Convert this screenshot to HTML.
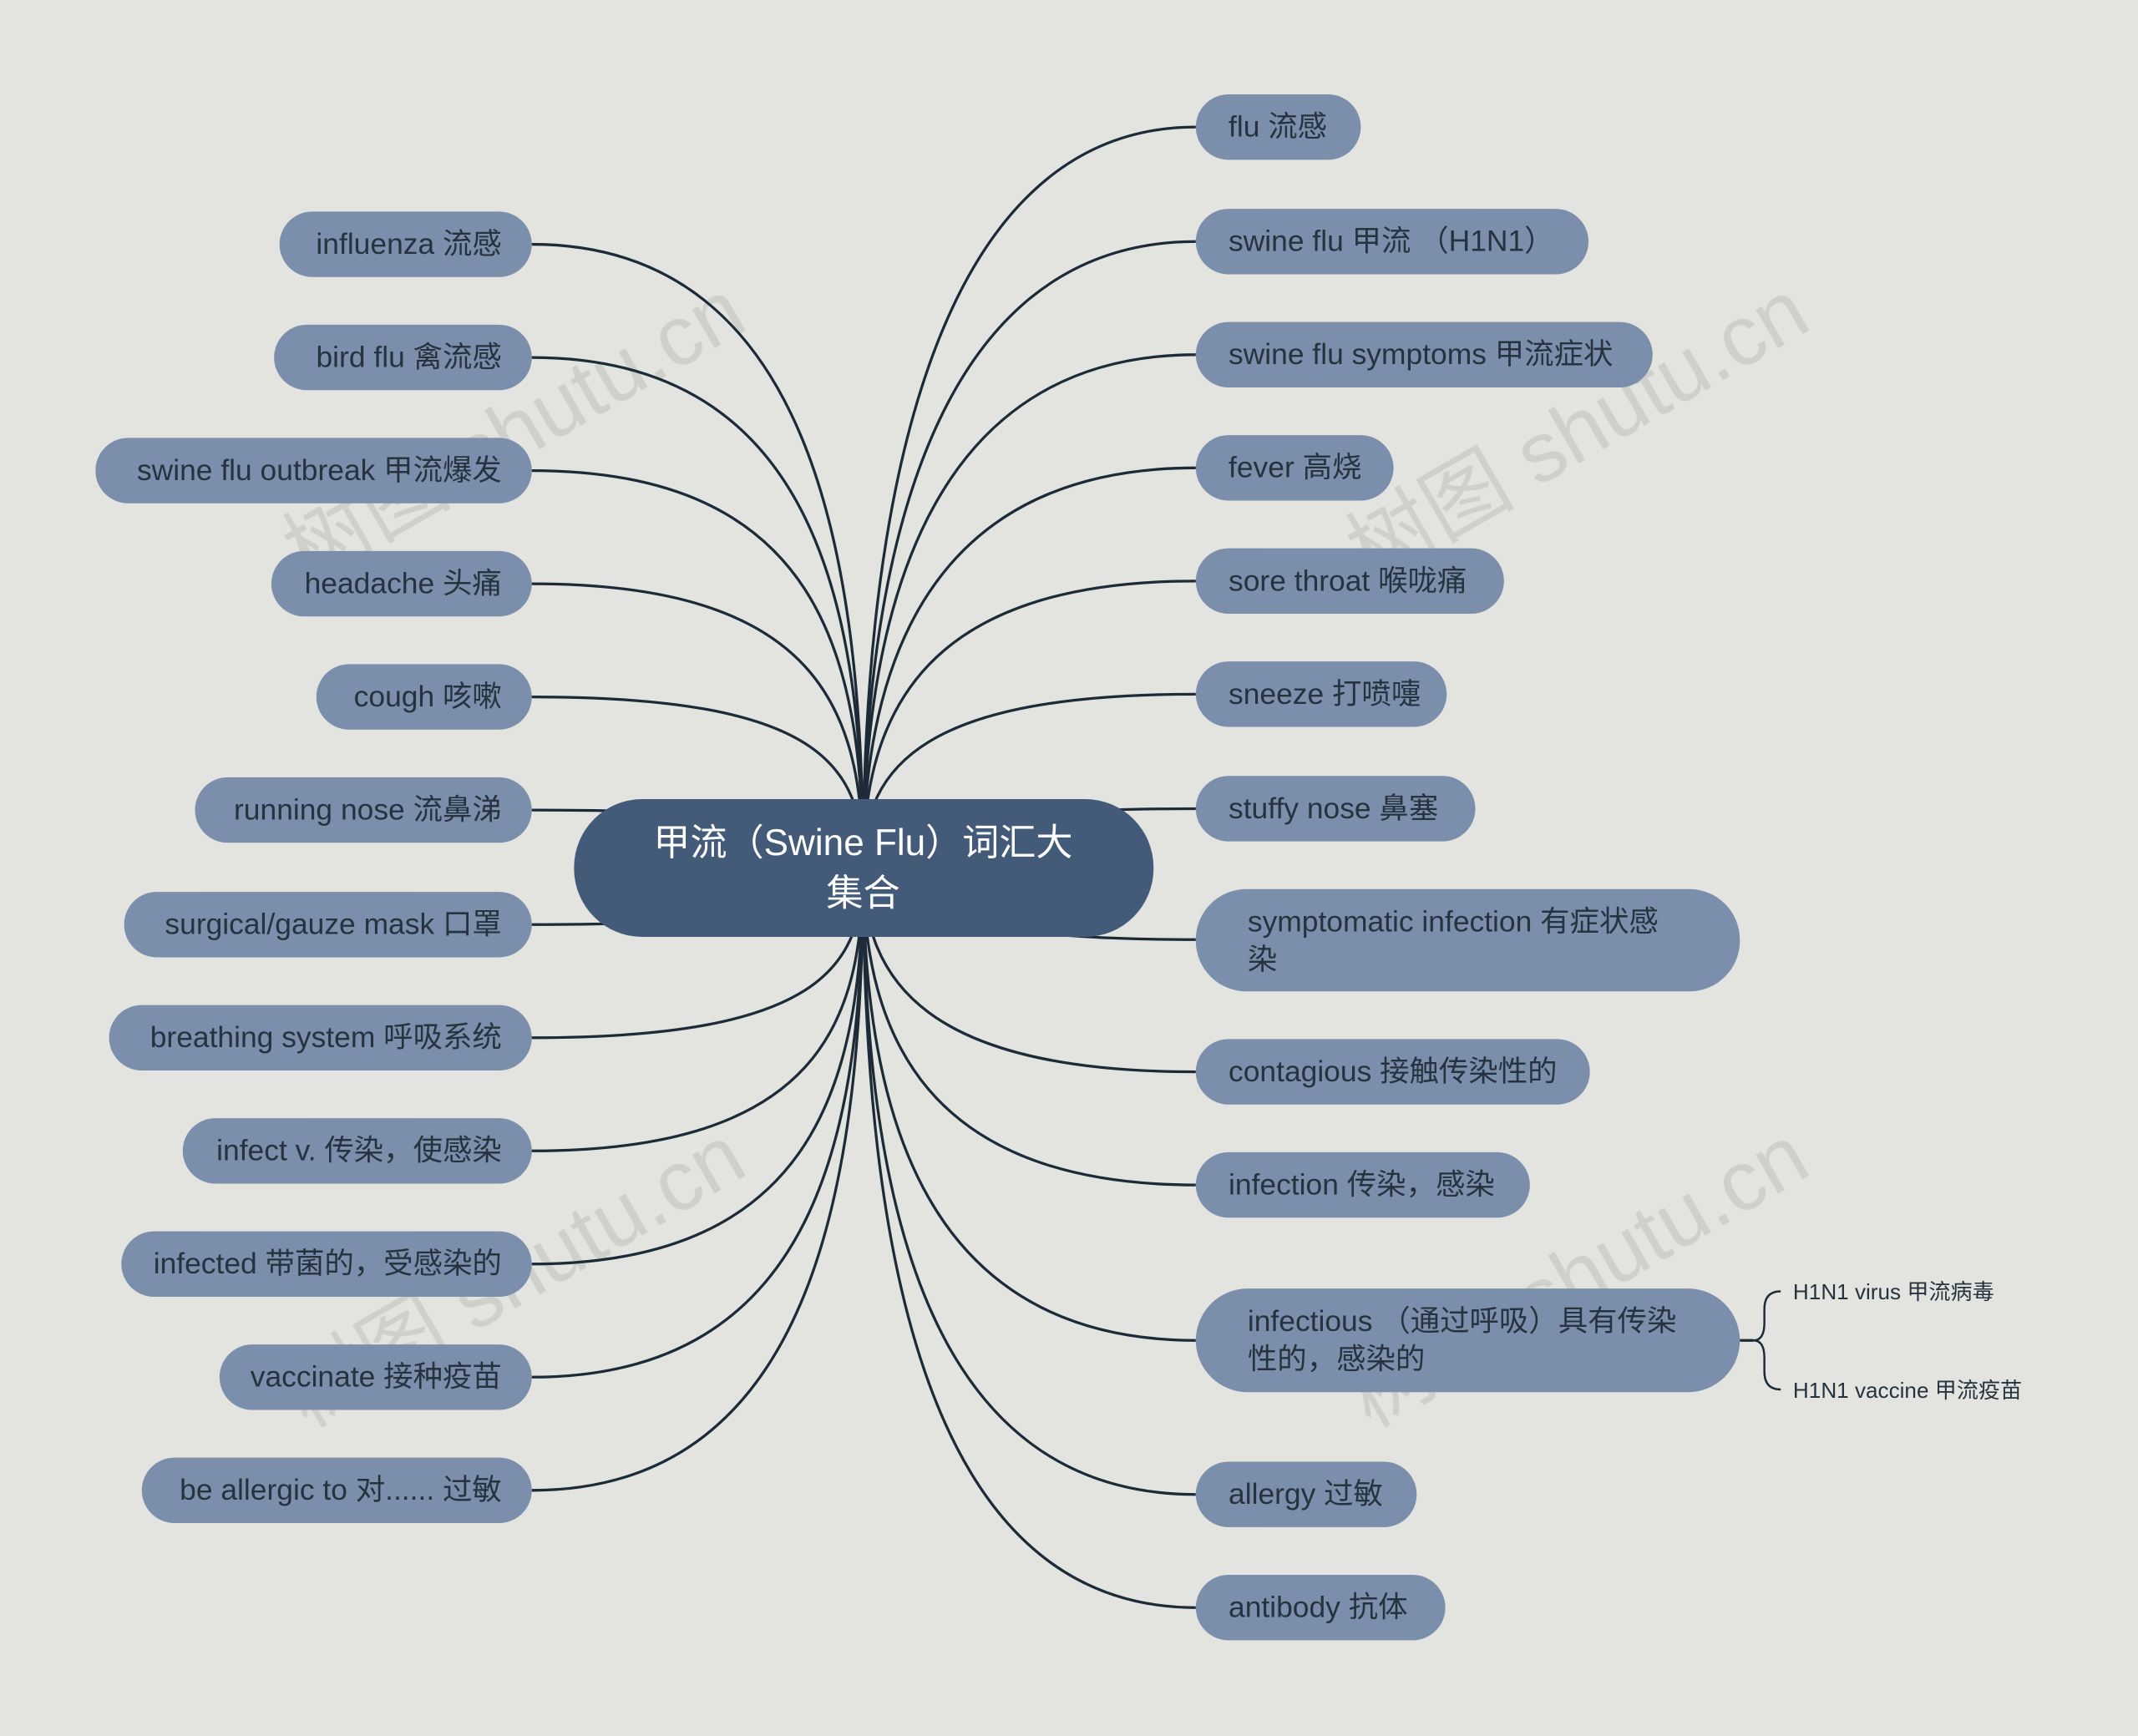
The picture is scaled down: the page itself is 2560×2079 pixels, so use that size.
<!DOCTYPE html>
<html><head><meta charset="utf-8"><style>
html,body{margin:0;padding:0;background:#e3e4df;}
svg{display:block;}
text{font-family:"Liberation Sans","Noto Sans CJK SC",sans-serif;}
</style></head><body>
<svg width="2560" height="2079" viewBox="0 0 1568 1273" xmlns="http://www.w3.org/2000/svg">
<rect width="1568" height="1273" fill="#e3e4df"/>
<g font-size="62" fill="#c9cac5" opacity="0.75">
<text x="0" y="0" transform="translate(225,428) rotate(-30)">树图 shutu.cn</text>
<text x="0" y="0" transform="translate(1005,428) rotate(-30)">树图 shutu.cn</text>
<text x="0" y="0" transform="translate(225,1048) rotate(-30)">树图 shutu.cn</text>
<text x="0" y="0" transform="translate(1005,1048) rotate(-30)">树图 shutu.cn</text>
</g>
<g fill="none" stroke="#1d2a38" stroke-width="2">
<path d="M390,179 C600,179 633,420 633,636"/>
<path d="M390,262 C600,262 633,450 633,636"/>
<path d="M390,345 C600,345 633,480 633,636"/>
<path d="M390,428 C600,428 633,520 633,636"/>
<path d="M390,511 C600,511 633,560 633,636"/>
<path d="M390,594 C520,594 600,600 633,636"/>
<path d="M390,678 C520,678 600,670 633,636"/>
<path d="M390,761 C600,761 633,710 633,636"/>
<path d="M390,844 C600,844 633,750 633,636"/>
<path d="M390,927 C600,927 633,790 633,636"/>
<path d="M390,1010 C600,1010 633,830 633,636"/>
<path d="M390,1093 C600,1093 633,860 633,636"/>
<path d="M877,93 C680,93 633,380 633,636"/>
<path d="M877,177 C680,177 633,420 633,636"/>
<path d="M877,260 C680,260 633,450 633,636"/>
<path d="M877,343 C680,343 633,490 633,636"/>
<path d="M877,426 C680,426 633,520 633,636"/>
<path d="M877,509 C680,509 633,560 633,636"/>
<path d="M877,593 C760,593 680,600 633,636"/>
<path d="M877,689 C760,689 680,680 633,636"/>
<path d="M877,786 C680,786 633,720 633,636"/>
<path d="M877,869 C680,869 633,760 633,636"/>
<path d="M877,983 C680,983 633,820 633,636"/>
<path d="M877,1096 C680,1096 633,880 633,636"/>
<path d="M877,1179 C680,1179 633,920 633,636"/>
<path d="M1276,983 L1286,983"/>
<path d="M1306,947 Q1294,947 1294,960 L1294,970 Q1294,983 1286,983 Q1294,983 1294,996 L1294,1006 Q1294,1019 1306,1019" stroke-width="1.5"/>
</g>
<g fill="#7b8eab">
<rect x="205" y="155" width="185" height="48" rx="24"/>
<rect x="201" y="238" width="189" height="48" rx="24"/>
<rect x="70" y="321" width="320" height="48" rx="24"/>
<rect x="199" y="404" width="191" height="48" rx="24"/>
<rect x="232" y="487" width="158" height="48" rx="24"/>
<rect x="143" y="570" width="247" height="48" rx="24"/>
<rect x="91" y="654" width="299" height="48" rx="24"/>
<rect x="80" y="737" width="310" height="48" rx="24"/>
<rect x="134" y="820" width="256" height="48" rx="24"/>
<rect x="89" y="903" width="301" height="48" rx="24"/>
<rect x="161" y="986" width="229" height="48" rx="24"/>
<rect x="104" y="1069" width="286" height="48" rx="24"/>
<rect x="877" y="69" width="121" height="48" rx="24"/>
<rect x="877" y="153" width="288" height="48" rx="24"/>
<rect x="877" y="236" width="335" height="48" rx="24"/>
<rect x="877" y="319" width="145" height="48" rx="24"/>
<rect x="877" y="402" width="226" height="48" rx="24"/>
<rect x="877" y="485" width="184" height="48" rx="24"/>
<rect x="877" y="569" width="205" height="48" rx="24"/>
<rect x="877" y="652" width="399" height="75" rx="37"/>
<rect x="877" y="762" width="289" height="48" rx="24"/>
<rect x="877" y="845" width="245" height="48" rx="24"/>
<rect x="877" y="945" width="399" height="76" rx="38"/>
<rect x="877" y="1072" width="162" height="48" rx="24"/>
<rect x="877" y="1155" width="183" height="48" rx="24"/>
</g>
<rect x="421" y="586" width="425" height="101" rx="50" fill="#435b78"/>
<g font-size="27" fill="#ffffff" text-anchor="middle">
<text x="633" y="627">甲流（Swine Flu）词汇大</text>
<text x="633" y="664">集合</text>
</g>
<g font-size="21.7" fill="#26333f" text-anchor="end">
<text x="368" y="186">influenza 流感</text>
<text x="368" y="269">bird flu 禽流感</text>
<text x="368" y="352">swine flu outbreak 甲流爆发</text>
<text x="368" y="435">headache 头痛</text>
<text x="368" y="518">cough 咳嗽</text>
<text x="368" y="601">running nose 流鼻涕</text>
<text x="368" y="685">surgical/gauze mask 口罩</text>
<text x="368" y="768">breathing system 呼吸系统</text>
<text x="368" y="851">infect v. 传染，使感染</text>
<text x="368" y="934">infected 带菌的，受感染的</text>
<text x="368" y="1017">vaccinate 接种疫苗</text>
<text x="368" y="1100">be allergic to 对...... 过敏</text>
</g>
<g font-size="21.7" fill="#26333f">
<text x="901" y="100">flu 流感</text>
<text x="901" y="184">swine flu 甲流 （H1N1）</text>
<text x="901" y="267">swine flu symptoms 甲流症状</text>
<text x="901" y="350">fever 高烧</text>
<text x="901" y="433">sore throat 喉咙痛</text>
<text x="901" y="516">sneeze 打喷嚏</text>
<text x="901" y="600">stuffy nose 鼻塞</text>
<text x="915" y="683">symptomatic infection 有症状感</text>
<text x="915" y="711">染</text>
<text x="901" y="793">contagious 接触传染性的</text>
<text x="901" y="876">infection 传染，感染</text>
<text x="915" y="976">infectious （通过呼吸）具有传染</text>
<text x="915" y="1004">性的，感染的</text>
<text x="901" y="1103">allergy 过敏</text>
<text x="901" y="1186">antibody 抗体</text>
</g>
<g font-size="16" fill="#26333f">
<text x="1315" y="953">H1N1 virus 甲流病毒</text>
<text x="1315" y="1025">H1N1 vaccine 甲流疫苗</text>
</g>
</svg>
</body></html>
